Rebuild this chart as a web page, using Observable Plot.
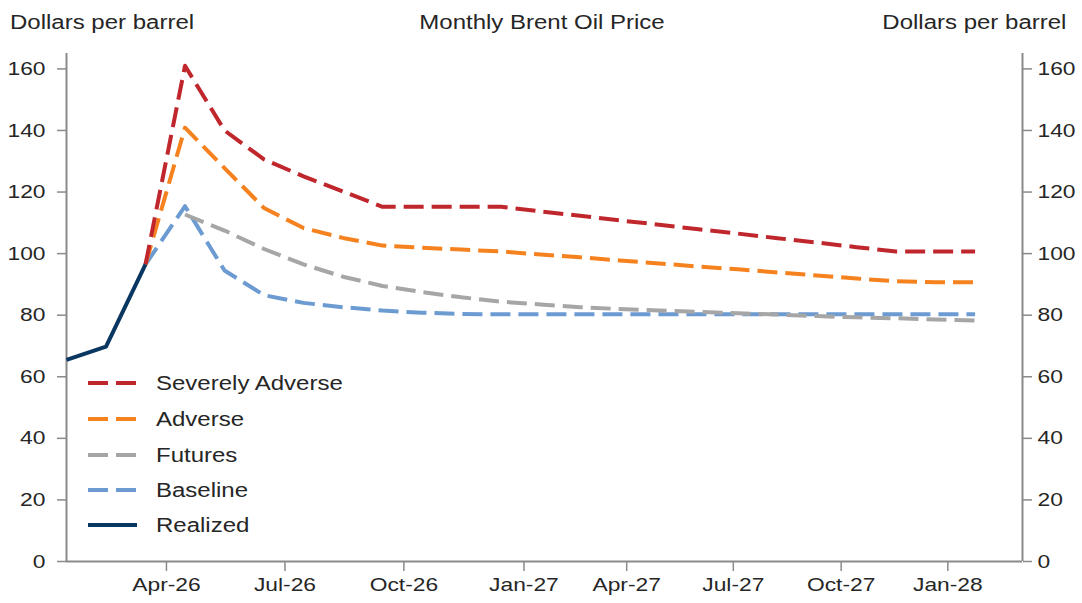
<!DOCTYPE html>
<html>
<head>
<meta charset="utf-8">
<script src="https://cdn.jsdelivr.net/npm/d3@7"></script>
<script src="https://cdn.jsdelivr.net/npm/@observablehq/plot@0.6"></script>
<style>
  body { margin: 0; background: #fff; font-family: "Liberation Sans", Arial, sans-serif; color: #262626; }
  #wrap { position: relative; width: 1082px; height: 603px; overflow: hidden; background: #fff; }
  #header { position: relative; height: 44px; }
  .h { position: absolute; top: 22px; font-size: 20px; line-height: 1; white-space: nowrap; display: inline-block; }
  #hl { left: 10px; transform: translateY(-50%) scaleX(1.2); transform-origin: left center; }
  #hc { left: 542px; transform: translate(-50%, -50%) scaleX(1.2); transform-origin: center center; }
  #hr { right: 16px; transform: translateY(-50%) scaleX(1.2); transform-origin: right center; }
  .lg { position: absolute; left: 0; height: 0; }
  .lg svg { position: absolute; left: 86px; top: -5px; }
  .lg span { position: absolute; left: 156px; top: 0; font-size: 20px; line-height: 1; white-space: nowrap; display: inline-block; transform: translateY(-50%) scaleX(1.2); transform-origin: left center; }
</style>
</head>
<body>
<div id="wrap">
  <div id="header">
    <span class="h" id="hl">Dollars per barrel</span>
    <span class="h" id="hc">Monthly Brent Oil Price</span>
    <span class="h" id="hr">Dollars per barrel</span>
  </div>
  <div id="chart"></div>
</div>
<script>
// ---- Data (monthly, Jan-26 .. Dec-27) ----
const months = ["Jan-26","Feb-26","Mar-26","Apr-26","May-26","Jun-26","Jul-26","Aug-26","Sep-26","Oct-26","Nov-26","Dec-26",
                "Jan-27","Feb-27","Mar-27","Apr-27","May-27","Jun-27","Jul-27","Aug-27","Sep-27","Oct-27","Nov-27","Dec-27"];

const realized = [65.5, 69.8, 96.5];
const severelyAdverse = [null, null, 96.5, 161, 140, 130.6, 125.1, 120.2, 115.2, 115.2, 115.2, 115.2,
                         113.7, 112.3, 110.8, 109.4, 107.9, 106.5, 105.0, 103.6, 102.1, 100.7, 100.7, 100.7];
const adverse = [null, null, 96.5, 140.9, 127.8, 114.8, 108.3, 105.1, 102.6, 101.9, 101.3, 100.7,
                 99.7, 98.8, 97.8, 96.8, 95.8, 94.9, 93.9, 92.9, 91.9, 91.0, 90.7, 90.7];
const futures = [null, null, null, 112.7, 107.5, 101.5, 96.5, 92.5, 89.5, 87.5, 85.8, 84.4,
                 83.5, 82.6, 82.0, 81.5, 81.1, 80.6, 80.2, 79.7, 79.3, 79.0, 78.6, 78.3];
const baseline = [null, null, 96.5, 115.4, 94.5, 86.5, 84.0, 82.6, 81.5, 80.8, 80.4, 80.3,
                  80.3, 80.3, 80.3, 80.3, 80.3, 80.3, 80.3, 80.3, 80.3, 80.3, 80.3, 80.3];

const seriesNames = ["Severely Adverse", "Adverse", "Futures", "Baseline", "Realized"];
const seriesColors = ["#C0272D", "#F5821F", "#A6A6A6", "#6C9BD2", "#0A3761"];
const seriesValues = [severelyAdverse, adverse, futures, baseline, realized];
const seriesDashed = [true, true, true, true, false];

// x tick positions (in month-index units) and labels as printed on the axis
const xTickPositions = [2.53, 5.53, 8.54, 11.58, 14.18, 16.88, 19.61, 22.31];
const xTickLabels = ["Apr-26", "Jul-26", "Oct-26", "Jan-27", "Apr-27", "Jul-27", "Oct-27", "Jan-28"];
const yTicks = [0, 20, 40, 60, 80, 100, 120, 140, 160];
const xMax = 24.2;
const yMax = 165;

// ---- Build table ----
const table = [];
seriesNames.forEach((name, k) => {
  seriesValues[k].forEach((v, i) => {
    if (v != null) table.push({series: name, month: months[i], i, value: v});
  });
});

const axisColor = "#8a8a8a";
const textColor = "#262626";
const drawOrder = ["Baseline", "Futures", "Adverse", "Severely Adverse", "Realized"];

const lineMarks = drawOrder.map(name => {
  const k = seriesNames.indexOf(name);
  return Plot.line(table.filter(d => d.series === name), {
    x: "i", y: "value",
    stroke: seriesColors[k],
    strokeWidth: 4,
    strokeDasharray: seriesDashed[k] ? "20,8" : null,
    strokeLinecap: "butt",
    strokeLinejoin: "round"
  });
});

const chart = Plot.plot({
  width: 1082,
  height: 559,
  marginLeft: 66,
  marginRight: 60,
  marginTop: 9,
  marginBottom: 42,
  style: {fontFamily: "'Liberation Sans', Arial, sans-serif", fontSize: "19px", color: textColor, background: "#fff", overflow: "visible"},
  x: {domain: [0, xMax]},
  y: {domain: [0, yMax]},
  marks: [
    Plot.axisY({anchor: "left", ticks: yTicks, tickSize: 9, tickPadding: 12, stroke: axisColor, strokeWidth: 1.5, fill: textColor, fontSize: 19, label: null}),
    Plot.axisY({anchor: "right", ticks: yTicks, tickSize: 9, tickPadding: 6, stroke: axisColor, strokeWidth: 1.5, fill: textColor, fontSize: 19, label: null}),
    Plot.axisX({ticks: xTickPositions, tickFormat: d => xTickLabels[xTickPositions.indexOf(d)], tickSize: 10, tickPadding: 6, stroke: axisColor, strokeWidth: 1.5, fill: textColor, fontSize: 19, label: null}),
    Plot.ruleY([0], {stroke: axisColor, strokeWidth: 2}),
    Plot.ruleX([0], {stroke: axisColor, strokeWidth: 2}),
    Plot.ruleX([xMax], {stroke: axisColor, strokeWidth: 2}),
    ...lineMarks
  ]
});
document.getElementById("chart").appendChild(chart);

// stretch the SVG text horizontally to match the reference's proportions
chart.querySelectorAll("text").forEach(t => {
  const len = t.getComputedTextLength();
  if (len > 0) {
    t.setAttribute("textLength", (len * 1.2).toFixed(1));
    t.setAttribute("lengthAdjust", "spacingAndGlyphs");
  }
});

// ---- Legend (inside plot, left) ----
const legendTops = [383, 419, 454.5, 489.5, 524.5];
const wrap = document.getElementById("wrap");
seriesNames.forEach((name, k) => {
  const row = document.createElement("div");
  row.className = "lg";
  row.style.top = legendTops[k] + "px";
  const dash = seriesDashed[k] ? 'stroke-dasharray="20,8"' : "";
  row.innerHTML = `<svg width="54" height="10"><line x1="2" x2="51" y1="5" y2="5" stroke="${seriesColors[k]}" stroke-width="4" ${dash}/></svg><span>${name}</span>`;
  wrap.appendChild(row);
});
</script>
</body>
</html>
